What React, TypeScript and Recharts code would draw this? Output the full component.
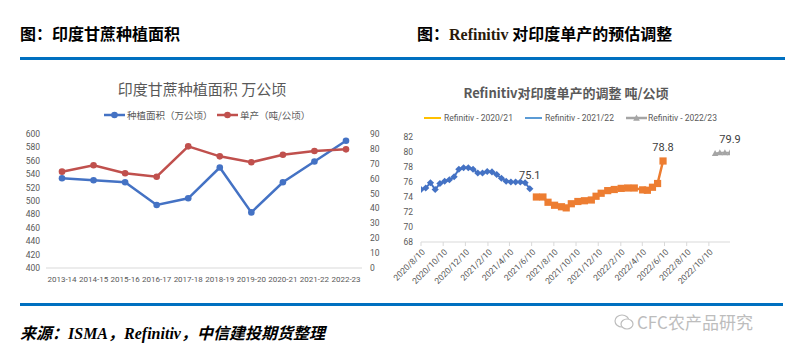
import React from 'react';
import { LineChart, Line, XAxis, YAxis } from 'recharts';

// left chart: India sugarcane area / yield
const seasons = ['2013-14', '2014-15', '2015-16', '2016-17', '2017-18', '2018-19', '2019-20', '2020-21', '2021-22', '2022-23'];
const plantedArea = [534, 531, 528, 494, 504, 550, 483, 528, 559, 590];
const yieldPerHa = [64.7, 69.0, 63.6, 61.3, 81.7, 75.0, 71.0, 76.1, 78.6, 79.7];
const areaTicks = [400, 420, 440, 460, 480, 500, 520, 540, 560, 580, 600];
const yieldTicks = [0, 10, 20, 30, 40, 50, 60, 70, 80, 90];

// right chart: Refinitiv yield estimates
const blueDates = ['2020-08-10', '2020-08-23', '2020-09-05', '2020-09-18', '2020-10-01', '2020-10-14', '2020-10-27', '2020-11-09', '2020-11-22', '2020-12-05', '2020-12-18', '2020-12-31', '2021-01-13', '2021-01-26', '2021-02-08', '2021-02-21', '2021-03-06', '2021-03-19', '2021-04-01', '2021-04-14', '2021-04-27', '2021-05-10', '2021-05-23', '2021-06-05'];
const blueValues = [75.0, 75.2, 75.9, 75.0, 75.8, 76.1, 76.3, 76.7, 77.7, 77.9, 77.9, 77.7, 77.2, 77.2, 77.4, 77.35, 77.0, 76.5, 76.1, 76.0, 76.0, 76.0, 75.9, 75.1];
const orangeDates = ['2021-06-23', '2021-07-11', '2021-07-25', '2021-08-12', '2021-08-31', '2021-09-13', '2021-09-27', '2021-10-15', '2021-11-02', '2021-11-21', '2021-12-04', '2021-12-18', '2022-01-05', '2022-01-23', '2022-02-11', '2022-03-01', '2022-03-19', '2022-04-11', '2022-04-24', '2022-05-08', '2022-05-22', '2022-06-06'];
const orangeValues = [74.0, 74.0, 73.3, 72.9, 72.7, 72.55, 73.1, 73.4, 73.5, 73.6, 74.1, 74.5, 74.85, 75.0, 75.15, 75.2, 75.2, 74.95, 74.9, 75.3, 75.8, 78.8];
const greyDates = ['2022-10-27', '2022-11-09', '2022-11-23', '2022-12-07'];
const greyValues = [79.8, 79.9, 79.9, 79.9];
const dateTicks = ['2020/8/10', '2020/10/10', '2020/12/10', '2021/2/10', '2021/4/10', '2021/6/10', '2021/8/10', '2021/10/10', '2021/12/10', '2022/2/10', '2022/4/10', '2022/6/10', '2022/8/10', '2022/10/10'];
const rightTicks = [68, 70, 72, 74, 76, 78, 80, 82];

const toTime = (s: string) => {
  const [y, m, d] = s.split(/[-/]/).map(Number);
  return Date.UTC(y, m - 1, d);
};
const fmtDate = (t: number) => {
  const d = new Date(t);
  return `${d.getUTCFullYear()}/${d.getUTCMonth() + 1}/${d.getUTCDate()}`;
};

const leftData = seasons.map((s, i) => ({ season: s, area: plantedArea[i], yld: yieldPerHa[i] }));
const blueData = blueDates.map((d, i) => ({ t: toTime(d), v: blueValues[i] }));
const orangeData = orangeDates.map((d, i) => ({ t: toTime(d), v: orangeValues[i] }));
const greyData = greyDates.map((d, i) => ({ t: toTime(d), v: greyValues[i] }));
const tickTimes = dateTicks.map(toTime);

const BLUE = '#4472C4';
const RED = '#C0504D';
const ORANGE = '#ED7D31';
const GREY = '#A5A5A5';
const TXT = '#595959';
const AXIS = '#D9D9D9';

const Diamond = (p: any) => {
  const { cx, cy } = p;
  if (cx == null || cy == null) return <g key={p.key} />;
  return <path key={p.key} d={`M${cx},${cy - 3.6}L${cx + 3.6},${cy}L${cx},${cy + 3.6}L${cx - 3.6},${cy}Z`} fill={BLUE} />;
};
const Square = (p: any) => {
  const { cx, cy } = p;
  if (cx == null || cy == null) return <g key={p.key} />;
  return <rect key={p.key} x={cx - 3.6} y={cy - 3.6} width={7.2} height={7.2} fill={ORANGE} />;
};
const Triangle = (p: any) => {
  const { cx, cy } = p;
  if (cx == null || cy == null) return <g key={p.key} />;
  return <path key={p.key} d={`M${cx},${cy - 3.5}L${cx + 3.2},${cy + 2.5}L${cx - 3.2},${cy + 2.5}Z`} fill={GREY} />;
};

const lastLabel = (n: number) => (p: any) =>
  p.index === n - 1 ? (
    <text key={`lbl-${p.index}`} x={p.x} y={p.y - 10} textAnchor="middle" fontSize={11} fill="#404040" fontFamily="Roboto">
      {p.value}
    </text>
  ) : <g key={`lbl-${p.index}`} />;

const DateTick = (p: any) => {
  const { x, y, payload } = p;
  return (
    <text x={x + 3} y={y + 3} transform={`rotate(-45 ${x + 3} ${y + 3})`} textAnchor="end" dominantBaseline="middle" fontSize={8.5} fill={TXT} fontFamily="Roboto">
      {fmtDate(payload.value)}
    </text>
  );
};

const abs = (left: number, top: number, extra: React.CSSProperties = {}): React.CSSProperties => ({ position: 'absolute', left, top, ...extra });

const LegendIcon = ({ color, shape }: { color: string; shape?: 'circle' | 'triangle' }) => (
  <svg width={21} height={8} style={{ display: 'block' }}>
    <line x1={0} y1={4} x2={21} y2={4} stroke={color} strokeWidth={2.5} />
    {shape === 'circle' && <circle cx={10.5} cy={4} r={3.3} fill={color} />}
    {shape === 'triangle' && <path d="M10.5,0.5L13.8,6.8L7.2,6.8Z" fill={color} />}
  </svg>
);

export default function App() {
  const cjk = "'Noto Sans CJK SC', sans-serif";
  return (
    <div style={{ position: 'absolute', left: 0, top: 0, width: 788, height: 356, background: '#fff', overflow: 'hidden', fontFamily: cjk }}>
      {/* headers */}
      <div style={abs(20, 24, { fontSize: 16, fontWeight: 700, lineHeight: '19px', color: '#000', whiteSpace: 'nowrap' })}>图：印度甘蔗种植面积</div>
      <div style={abs(417, 24, { fontSize: 16, fontWeight: 700, lineHeight: '19px', color: '#000', whiteSpace: 'nowrap' })}>
        图：<span style={{ fontFamily: "'Liberation Serif', serif", color: '#2a1a0a' }}>Refinitiv</span> 对印度单产的预估调整
      </div>
      <div style={abs(20, 57, { width: 765, height: 3, background: '#0070C0' })} />

      {/* left chart */}
      <div style={abs(0, 79, { width: 404, textAlign: 'center', fontSize: 15, lineHeight: '20px', color: TXT })}>印度甘蔗种植面积 万公顷</div>
      <div style={abs(104, 110, { display: 'flex', alignItems: 'center', fontSize: 9.5, color: TXT, lineHeight: '10px' })}>
        <LegendIcon color={BLUE} shape="circle" />
        <span style={{ marginLeft: 2 }}>种植面积（万公顷）</span>
      </div>
      <div style={abs(217, 110, { display: 'flex', alignItems: 'center', fontSize: 9.5, color: TXT, lineHeight: '10px' })}>
        <LegendIcon color={RED} shape="circle" />
        <span style={{ marginLeft: 2 }}>单产（吨/公顷）</span>
      </div>
      <div style={abs(0, 60)}>
        <LineChart width={400} height={240} data={leftData} margin={{ top: 74, right: 6, bottom: 6, left: 6 }}>
          <XAxis dataKey="season" interval={0} padding={{ left: 16, right: 16 }} tickLine={false} axisLine={{ stroke: AXIS }} height={26} tick={{ fontSize: 8, fill: TXT, fontFamily: 'Roboto' }} />
          <YAxis yAxisId="l" domain={[400, 600]} ticks={areaTicks} interval={0} axisLine={false} tickLine={false} width={40} tickSize={4} tick={{ fontSize: 8.5, fill: TXT, fontFamily: 'Roboto' }} />
          <YAxis yAxisId="r" orientation="right" domain={[0, 90]} ticks={yieldTicks} interval={0} axisLine={false} tickLine={false} width={32} tick={{ fontSize: 8.5, fill: TXT, fontFamily: 'Roboto' }} />
          <Line yAxisId="l" dataKey="area" stroke={BLUE} strokeWidth={2.5} dot={{ r: 3.3, fill: BLUE, stroke: BLUE, strokeWidth: 0 }} isAnimationActive={false} />
          <Line yAxisId="r" dataKey="yld" stroke={RED} strokeWidth={2.5} dot={{ r: 3.3, fill: RED, stroke: RED, strokeWidth: 0 }} isAnimationActive={false} />
        </LineChart>
      </div>

      {/* right chart */}
      <div style={abs(366, 83, { width: 400, textAlign: 'center', fontSize: 13, fontWeight: 700, lineHeight: '20px', color: TXT })}>Refinitiv对印度单产的调整 吨/公顷</div>
      <div style={abs(424, 113, { display: 'flex', alignItems: 'center', fontSize: 8.5, color: TXT, lineHeight: '10px', fontFamily: 'Roboto' })}>
        <svg width={17} height={8} style={{ display: 'block' }}><line x1={0} y1={4} x2={17} y2={4} stroke="#FFC000" strokeWidth={2} /></svg>
        <span style={{ marginLeft: 3 }}>Refinitiv - 2020/21</span>
      </div>
      <div style={abs(525, 113, { display: 'flex', alignItems: 'center', fontSize: 8.5, color: TXT, lineHeight: '10px', fontFamily: 'Roboto' })}>
        <svg width={17} height={8} style={{ display: 'block' }}><line x1={0} y1={4} x2={17} y2={4} stroke="#5B9BD5" strokeWidth={2} /></svg>
        <span style={{ marginLeft: 3 }}>Refinitiv - 2021/22</span>
      </div>
      <div style={abs(626, 113, { display: 'flex', alignItems: 'center', fontSize: 8.5, color: TXT, lineHeight: '10px', fontFamily: 'Roboto' })}>
        <LegendIcon color={GREY} shape="triangle" />
        <span style={{ marginLeft: 1 }}>Refinitiv - 2022/23</span>
      </div>
      <div style={abs(375, 60)}>
        <LineChart width={413} height={250} margin={{ top: 77, right: 58, bottom: 8, left: 0 }}>
          <XAxis dataKey="t" type="number" scale="time" domain={[toTime(blueDates[0]), toTime(greyDates[greyDates.length - 1])]} ticks={tickTimes} interval={0} allowDataOverflow height={60} axisLine={{ stroke: AXIS }} tickLine={{ stroke: AXIS }} tickSize={4} tick={<DateTick />} />
          <YAxis domain={[68, 82]} ticks={rightTicks} interval={0} axisLine={false} tickLine={false} width={46} tick={{ fontSize: 8.5, fill: TXT, fontFamily: 'Roboto' }} />
          <Line data={blueData} dataKey="v" stroke={BLUE} strokeWidth={2} dot={Diamond} label={lastLabel(blueData.length)} isAnimationActive={false} />
          <Line data={orangeData} dataKey="v" stroke={ORANGE} strokeWidth={2.5} dot={Square} label={lastLabel(orangeData.length)} isAnimationActive={false} />
          <Line data={greyData} dataKey="v" stroke={GREY} strokeWidth={2} dot={Triangle} label={lastLabel(greyData.length)} isAnimationActive={false} />
        </LineChart>
      </div>

      {/* footer */}
      <div style={abs(20, 303, { width: 763, height: 3, background: '#0070C0' })} />
      <div style={abs(20, 322, { fontSize: 16, fontWeight: 700, fontStyle: 'italic', lineHeight: '20px', color: '#000', whiteSpace: 'nowrap' })}>
        来源：<span style={{ fontFamily: "'Liberation Serif', serif" }}>ISMA</span>，<span style={{ fontFamily: "'Liberation Serif', serif" }}>Refinitiv</span>，中信建投期货整理
      </div>
      <div style={abs(614, 311, { display: 'flex', alignItems: 'center', color: '#BDBDBD', fontSize: 17, lineHeight: '22px', whiteSpace: 'nowrap' })}>
        <svg width={20} height={18} style={{ display: 'block', marginRight: 3 }}>
          <ellipse cx={8} cy={8} rx={7} ry={6} fill="none" stroke="#BDBDBD" strokeWidth={1.2} />
          <ellipse cx={13} cy={11} rx={6} ry={5} fill="#fff" stroke="#BDBDBD" strokeWidth={1.2} />
        </svg>
        <span>CFC农产品研究</span>
      </div>
    </div>
  );
}
